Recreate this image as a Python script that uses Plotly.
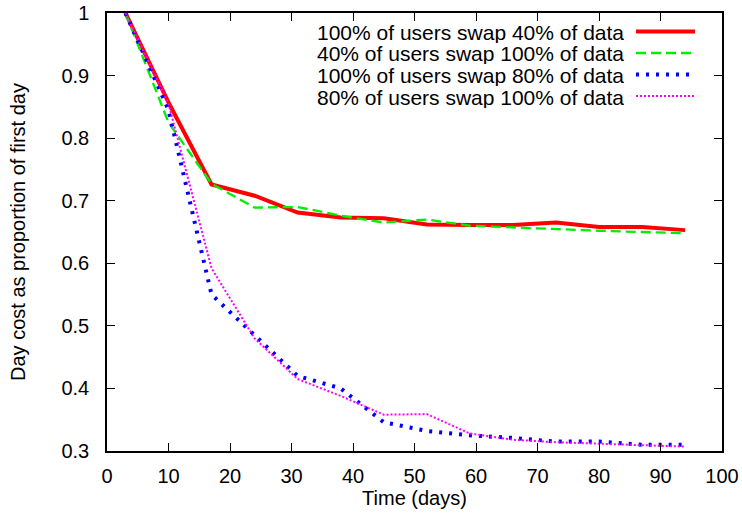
import plotly.graph_objects as go

days = [3, 10, 17, 24, 31, 38, 45, 52, 59, 66, 73, 80, 87, 94]

series_names = [
    "100% of users swap 40% of data",
    "40% of users swap 100% of data",
    "100% of users swap 80% of data",
    "80% of users swap 100% of data",
]
red_vals = [1.0, 0.857, 0.726, 0.708, 0.681, 0.673, 0.672, 0.662, 0.661, 0.661, 0.665, 0.658, 0.658, 0.653]
green_vals = [1.0, 0.825, 0.727, 0.689, 0.690, 0.676, 0.665, 0.670, 0.660, 0.657, 0.654, 0.652, 0.650, 0.648]
blue_vals = [1.0, 0.845, 0.550, 0.484, 0.420, 0.400, 0.346, 0.332, 0.325, 0.321, 0.315, 0.315, 0.310, 0.310]
magenta_vals = [1.0, 0.855, 0.592, 0.480, 0.415, 0.388, 0.358, 0.359, 0.328, 0.318, 0.314, 0.312, 0.310, 0.307]

x_ticks = [0, 10, 20, 30, 40, 50, 60, 70, 80, 90, 100]
y_ticks = [0.3, 0.4, 0.5, 0.6, 0.7, 0.8, 0.9, 1.0]
y_ticktext = ["0.3", "0.4", "0.5", "0.6", "0.7", "0.8", "0.9", "1"]

styles = [
    dict(color="#ff0000", width=4, dash="solid"),
    dict(color="#00ee00", width=2.3, dash="10px,5px"),
    dict(color="#0000ff", width=4, dash="3px,7px"),
    dict(color="#ff00ff", width=2, dash="2px,2px"),
]

all_vals = [red_vals, green_vals, blue_vals, magenta_vals]

fig = go.Figure()
for name, vals, st in zip(series_names, all_vals, styles):
    fig.add_trace(go.Scatter(x=days, y=vals, mode="lines", name=name,
                             line=st, showlegend=False))

W, H = 742, 516
L, R, T, B = 107, 20, 13, 65
pw, ph = W - L - R, H - T - B

def px2paper(px, py):
    return (px - L) / pw, (H - B - py) / ph

rows_y = [31.5, 53, 74.5, 96]
shapes = []
annotations = []
for name, st, ry in zip(series_names, styles, rows_y):
    x0, y0 = px2paper(636, ry)
    x1, _ = px2paper(695, ry)
    shapes.append(dict(type="line", xref="paper", yref="paper", x0=x0, x1=x1, y0=y0, y1=y0,
                       line=dict(color=st["color"], width=st["width"], dash=st["dash"])))
    tx, ty = px2paper(625, ry + 1)
    annotations.append(dict(text=name, xref="paper", yref="paper", x=tx, y=ty,
                            xanchor="right", yanchor="middle", showarrow=False,
                            height=21, borderpad=0,
                            font=dict(size=21, color="black", family="Liberation Sans")))

fig.update_layout(
    width=W, height=H,
    margin=dict(l=L, r=R, t=T, b=B),
    paper_bgcolor="white", plot_bgcolor="white",
    font=dict(family="Liberation Sans", size=20, color="black"),
    shapes=shapes, annotations=annotations,
    showlegend=False,
)
fig.update_xaxes(range=[0, 100], tickvals=x_ticks, ticks="inside", ticklen=8,
                 tickcolor="black", showline=True, linecolor="black", linewidth=1.5,
                 mirror="allticks", showgrid=False, zeroline=False, ticklabelstandoff=6,
                 automargin=False,
                 title=dict(text="Time (days)", font=dict(size=20), standoff=4),
                 tickfont=dict(size=20))
fig.update_yaxes(range=[0.3, 1.0], tickvals=y_ticks, ticktext=y_ticktext, ticks="inside",
                 ticklen=8, tickcolor="black", showline=True, linecolor="black", linewidth=1.5,
                 mirror="allticks", showgrid=False, zeroline=False, ticklabelstandoff=12,
                 automargin=False,
                 title=dict(text="Day cost as proportion of first day", font=dict(size=20), standoff=30),
                 tickfont=dict(size=20))

fig.write_html("out.html")
